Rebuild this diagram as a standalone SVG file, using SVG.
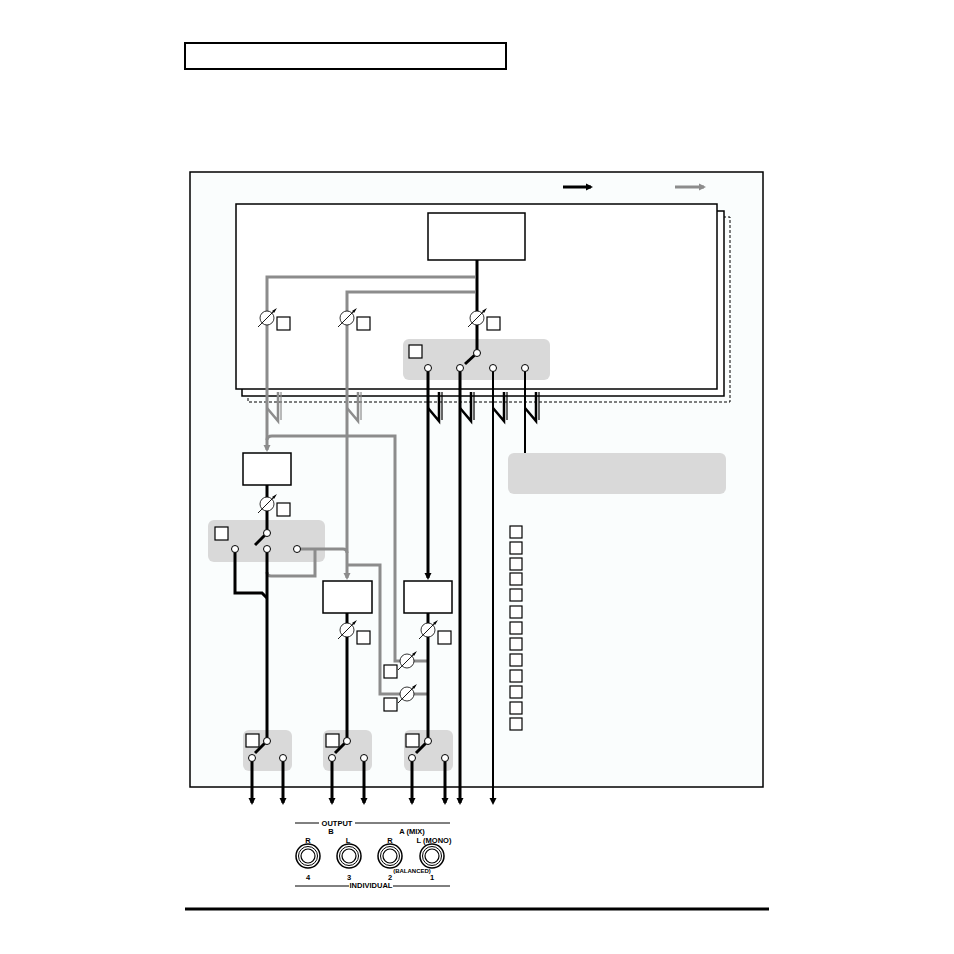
<svg xmlns="http://www.w3.org/2000/svg" width="954" height="954" viewBox="0 0 954 954">
<defs>
<style>
.k{fill:none;stroke:#000;stroke-width:3}
.kt{fill:none;stroke:#000;stroke-width:2}
.g{fill:none;stroke:#8c8c8c;stroke-width:3}
.box{fill:#fff;stroke:#000;stroke-width:1.5}
.sq{fill:#fff;stroke:#000;stroke-width:1.2}
.sw{fill:#d9d9d9;stroke:none}
.pt{fill:#fff;stroke:#000;stroke-width:1}
.t{font-family:"Liberation Sans",Arial,sans-serif;font-weight:bold;font-size:7.5px;text-anchor:middle}
</style>
<marker id="ak" markerWidth="8" markerHeight="8" refX="5" refY="4" orient="auto" markerUnits="userSpaceOnUse"><path d="M0,0.5 L7,4 L0,7.5 z" fill="#000"/></marker>
<marker id="ag" markerWidth="8" markerHeight="8" refX="5" refY="4" orient="auto" markerUnits="userSpaceOnUse"><path d="M0,0.5 L7,4 L0,7.5 z" fill="#8c8c8c"/></marker>
<g id="knob"><circle r="7" fill="#fff" stroke="#000" stroke-width="0.8"/><line x1="-9" y1="9" x2="8" y2="-8" stroke="#000" stroke-width="0.9"/><path d="M10,-10 L5,-7 L7,-5 z" fill="#000"/></g>
<g id="zz"><polyline points="0,408 11,421 11,392" fill="none" stroke="#000" stroke-width="2.5"/><line x1="14" y1="392" x2="14" y2="420" stroke="#000" stroke-width="1.2"/></g>
<g id="zzg"><polyline points="0,408 11,421 11,392" fill="none" stroke="#8c8c8c" stroke-width="2.5"/><line x1="14" y1="392" x2="14" y2="420" stroke="#8c8c8c" stroke-width="1.2"/></g>
</defs>
<rect width="954" height="954" fill="#fff"/>
<rect x="185" y="43" width="321" height="26" fill="#fff" stroke="#000" stroke-width="2"/>
<rect x="190" y="172" width="573" height="615" fill="#fafdfd" stroke="#000" stroke-width="1.5"/>
<line x1="185" y1="909" x2="769" y2="909" stroke="#000" stroke-width="3"/>
<g id="legend">
<line x1="563" y1="187" x2="591" y2="187" class="k" marker-end="url(#ak)"/>
<line x1="675" y1="187" x2="704" y2="187" class="g" marker-end="url(#ag)"/>
</g>
<g id="panel">
<rect x="248" y="217" width="482" height="185" fill="none" stroke="#000" stroke-width="1" stroke-dasharray="3,2"/>
<rect x="242" y="211" width="482" height="185" fill="#fff" stroke="#000" stroke-width="1.5"/>
<rect x="236" y="204" width="481" height="185" fill="#fff" stroke="#000" stroke-width="1.5"/>
</g>
<g id="nodes">
<g id="topbox"><rect x="428" y="213" width="97" height="47" class="box"/></g>
<g id="sw1"><rect x="403" y="339" width="147" height="41" rx="6" class="sw"/><rect x="409" y="345" width="13" height="13" class="sq"/></g>
<g id="box1"><rect x="243" y="453" width="48" height="32" class="box"/></g>
<g id="box2"><rect x="323" y="581" width="49" height="32" class="box"/></g>
<g id="box3"><rect x="404" y="581" width="48" height="32" class="box"/></g>
<g id="sw2"><rect x="208" y="520" width="117" height="42" rx="6" class="sw"/><rect x="215" y="527" width="13" height="13" class="sq"/></g>
<g id="sw3"><rect x="243" y="730" width="49" height="41" rx="6" class="sw"/><rect x="246" y="734" width="13" height="13" class="sq"/></g>
<g id="sw4"><rect x="323" y="730" width="49" height="41" rx="6" class="sw"/><rect x="326" y="734" width="13" height="13" class="sq"/></g>
<g id="sw5"><rect x="404" y="730" width="49" height="41" rx="6" class="sw"/><rect x="406" y="734" width="13" height="13" class="sq"/></g>
<g id="infobox"><rect x="508" y="453" width="218" height="41" rx="6" class="sw"/></g>
<g id="list">
<rect x="510" y="526" width="12" height="12" class="sq"/><rect x="510" y="542" width="12" height="12" class="sq"/><rect x="510" y="558" width="12" height="12" class="sq"/><rect x="510" y="573" width="12" height="12" class="sq"/><rect x="510" y="589" width="12" height="12" class="sq"/><rect x="510" y="606" width="12" height="12" class="sq"/><rect x="510" y="622" width="12" height="12" class="sq"/><rect x="510" y="638" width="12" height="12" class="sq"/><rect x="510" y="654" width="12" height="12" class="sq"/><rect x="510" y="670" width="12" height="12" class="sq"/><rect x="510" y="686" width="12" height="12" class="sq"/><rect x="510" y="702" width="12" height="12" class="sq"/><rect x="510" y="718" width="12" height="12" class="sq"/>
</g>
</g>
<g id="connectors">
<path d="M477 260 V353" class="k"/>
<path d="M475 277 H267 V450" class="g" marker-end="url(#ag)"/>
<path d="M475 292 H347 V578" class="g" marker-end="url(#ag)"/>
<path d="M267 440 Q267 436 272 436 H395 V661 H428" class="g"/>
<path d="M297 549 H343 Q347 549 347 553" class="g"/>
<path d="M315 549 V576 H271 Q267 576 267 572" class="g"/>
<path d="M348 565 H380 V694 H428" class="g"/>
<path d="M477 353 L465 364" stroke="#000" stroke-width="3"/>
<path d="M428 368 V578" class="k" marker-end="url(#ak)"/>
<path d="M460 368 V803" class="k" marker-end="url(#ak)"/>
<path d="M493 368 V803" class="kt" marker-end="url(#ak)"/>
<path d="M525 368 V453" class="kt"/>
<use href="#zz" x="428"/><use href="#zz" x="460"/><use href="#zz" x="493"/><use href="#zz" x="525"/>
<use href="#zzg" x="267"/><use href="#zzg" x="347"/>
<path d="M267 485 V533" class="k"/>
<path d="M267 533 L255 545" stroke="#000" stroke-width="3"/>
<path d="M235 549 V593 H262 L267 598" class="k"/>
<path d="M267 549 V741" class="k"/>
<path d="M347 613 V741" class="k"/>
<path d="M428 613 V741" class="k"/>
<path d="M267 741 L255 753" stroke="#000" stroke-width="3"/>
<path d="M347 741 L335 753" stroke="#000" stroke-width="3"/>
<path d="M428 741 L416 753" stroke="#000" stroke-width="3"/>
<path d="M252 758 V803" class="k" marker-end="url(#ak)"/><path d="M283 758 V803" class="k" marker-end="url(#ak)"/><path d="M332 758 V803" class="k" marker-end="url(#ak)"/><path d="M364 758 V803" class="k" marker-end="url(#ak)"/><path d="M412 758 V803" class="k" marker-end="url(#ak)"/><path d="M445 758 V803" class="k" marker-end="url(#ak)"/>
<use href="#knob" x="267" y="318"/><rect x="277" y="317" width="13" height="13" class="sq"/>
<use href="#knob" x="347" y="318"/><rect x="357" y="317" width="13" height="13" class="sq"/>
<use href="#knob" x="477" y="318"/><rect x="487" y="317" width="13" height="13" class="sq"/>
<use href="#knob" x="267" y="504"/><rect x="277" y="503" width="13" height="13" class="sq"/>
<use href="#knob" x="347" y="630"/><rect x="357" y="631" width="13" height="13" class="sq"/>
<use href="#knob" x="428" y="630"/><rect x="438" y="631" width="13" height="13" class="sq"/>
<use href="#knob" x="407" y="661"/><rect x="384" y="665" width="13" height="13" class="sq"/>
<use href="#knob" x="407" y="694"/><rect x="384" y="698" width="13" height="13" class="sq"/>
<g class="pt">
<circle cx="477" cy="353" r="3.5"/><circle cx="428" cy="368" r="3.5"/><circle cx="460" cy="368" r="3.5"/><circle cx="493" cy="368" r="3.5"/><circle cx="525" cy="368" r="3.5"/>
<circle cx="267" cy="533" r="3.5"/><circle cx="235" cy="549" r="3.5"/><circle cx="267" cy="549" r="3.5"/><circle cx="297" cy="549" r="3.5"/>
<circle cx="267" cy="741" r="3.5"/><circle cx="252" cy="758" r="3.5"/><circle cx="283" cy="758" r="3.5"/>
<circle cx="347" cy="741" r="3.5"/><circle cx="332" cy="758" r="3.5"/><circle cx="364" cy="758" r="3.5"/>
<circle cx="428" cy="741" r="3.5"/><circle cx="412" cy="758" r="3.5"/><circle cx="445" cy="758" r="3.5"/>
</g>
</g>
<g id="jacks">
<line x1="295" y1="823" x2="450" y2="823" stroke="#000" stroke-width="1"/>
<rect x="319" y="817" width="36" height="8" fill="#fff"/>
<text x="337" y="826" class="t">OUTPUT</text>
<text x="331" y="834" class="t">B</text>
<text x="412" y="834" class="t">A (MIX)</text>
<text x="308" y="843" class="t">R</text><text x="348" y="843" class="t">L</text><text x="390" y="843" class="t">R</text><text x="434" y="843" class="t">L (MONO)</text>
<g fill="none" stroke="#000">
<circle cx="308" cy="856" r="12" stroke-width="1.5"/><circle cx="308" cy="856" r="9.5" stroke-width="1"/><circle cx="308" cy="856" r="7" stroke-width="1.2"/>
<circle cx="349" cy="856" r="12" stroke-width="1.5"/><circle cx="349" cy="856" r="9.5" stroke-width="1"/><circle cx="349" cy="856" r="7" stroke-width="1.2"/>
<circle cx="390" cy="856" r="12" stroke-width="1.5"/><circle cx="390" cy="856" r="9.5" stroke-width="1"/><circle cx="390" cy="856" r="7" stroke-width="1.2"/>
<circle cx="432" cy="856" r="12" stroke-width="1.5"/><circle cx="432" cy="856" r="9.5" stroke-width="1"/><circle cx="432" cy="856" r="7" stroke-width="1.2"/>
</g>
<text x="412" y="873" class="t" style="font-size:6px">(BALANCED)</text>
<text x="308" y="880" class="t">4</text><text x="349" y="880" class="t">3</text><text x="390" y="880" class="t">2</text><text x="432" y="880" class="t">1</text>
<line x1="295" y1="886" x2="450" y2="886" stroke="#000" stroke-width="1"/>
<rect x="349" y="881" width="44" height="8" fill="#fff"/>
<text x="371" y="888" class="t">INDIVIDUAL</text>
</g>
</svg>
